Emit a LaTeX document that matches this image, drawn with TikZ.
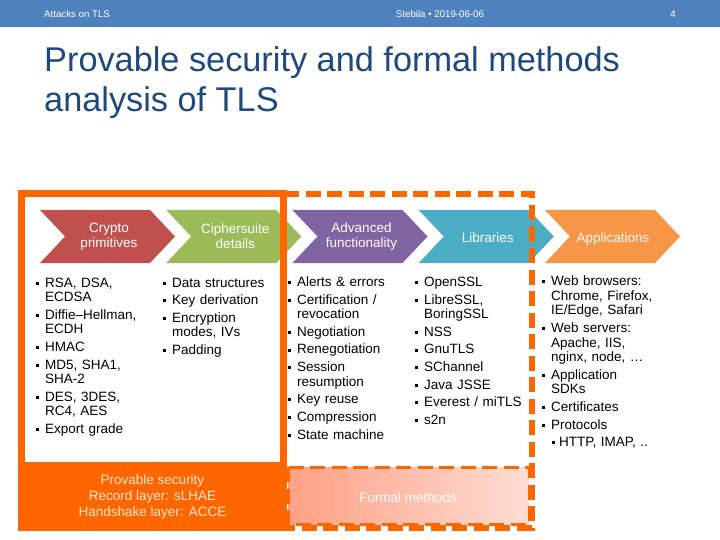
\documentclass[tikz,border=0pt]{standalone}
\usepackage{fontspec}
\setmainfont{Liberation Sans}
\definecolor{hdr}{HTML}{4F81BD}
\definecolor{ttl}{HTML}{1F497D}
\definecolor{cred}{HTML}{C0504D}
\definecolor{cgreen}{HTML}{9BBB59}
\definecolor{cpurple}{HTML}{8064A2}
\definecolor{cblue}{HTML}{4BACC6}
\definecolor{corange}{HTML}{F79646}
\definecolor{frm}{HTML}{FF6600}
\definecolor{fmL}{HTML}{FFA084}
\definecolor{fmR}{HTML}{FFDDD3}
\definecolor{pstxt}{HTML}{FFE9CF}
\newcommand\nl{\hfil\break}
\newcommand\bitem[1]{\par\hangindent=9pt\hangafter=1\noindent\makebox[9pt][l]{\rule[2.4pt]{3pt}{3pt}}#1}
\newcommand\subbitem[1]{\par\hangindent=17pt\hangafter=1\noindent\hspace{10pt}\makebox[7pt][l]{\rule[2.4pt]{3pt}{3pt}}#1}
\newcommand\chevron[2]{\fill[#2] (#1,210) -- ++(110,0) -- ++(25,26.5) -- ++(-25,26.5) -- ++(-110,0) -- ++(25,-26.5) -- cycle;}
\begin{document}
\begin{tikzpicture}[x=1pt,y=-1pt,
  hdrtxt/.style={text=white, font=\fontsize{9.7}{11}\selectfont, inner sep=0pt},
  chevtxt/.style={text=white, align=center, font=\fontsize{13.5}{15}\selectfont, inner sep=0pt},
  list/.style={anchor=base west, inner sep=0pt, text width=#1,
    font=\fontsize{13.5}{14.6}\selectfont\raggedright\setlength\parskip{3pt}},
  list/.default=125pt]
\useasboundingbox (0,0) rectangle (720,540);
% header
\fill[hdr] (0,0) rectangle (720,27.5);
\node[hdrtxt, anchor=west] (h1) at (44,14) {Attacks on TLS};
\node[hdrtxt] (h2) at (440,14) {Stebila • 2019-06-06};
\node[hdrtxt] (h3) at (673,14) {4};
% title
\node[anchor=base west, inner sep=0pt, text=ttl, font=\fontsize{34.3}{40}\selectfont] (title) at (44,72) {Provable security and formal methods};
\node[anchor=base west, inner sep=0pt, text=ttl, font=\fontsize{34.3}{40}\selectfont] (title2) at (44,112) {analysis of TLS};
% chevrons
\chevron{40}{cred}
\chevron{166.25}{cgreen}
\chevron{292.5}{cpurple}
\chevron{418.75}{cblue}
\chevron{545}{corange}
\node[chevtxt] (c1) at (109,236.5) {Crypto\\primitives};
\node[chevtxt] (c2) at (235.25,236.5) {Ciphersuite\\details};
\node[chevtxt] (c3) at (361.5,236.5) {Advanced\\functionality};
\node[chevtxt, anchor=base] (c4) at (487.75,242) {Libraries};
\node[chevtxt, anchor=base] (c5) at (613,242) {Applications};
% lists
\node[list] (l1) at (36,269.5) {\bitem{RSA, DSA,\nl ECDSA}\bitem{Diffie–Hellman,\nl ECDH}\bitem{HMAC}\bitem{MD5, SHA1,\nl SHA-2}\bitem{DES, 3DES,\nl RC4, AES}\bitem{Export grade}};
\node[list] (l2) at (163,269.5) {\bitem{Data structures}\bitem{Key derivation}\bitem{Encryption\nl modes, IVs}\bitem{Padding}};
\node[list] (l3) at (288,269) {\bitem{Alerts \& errors}\bitem{Certification /\nl revocation}\bitem{Negotiation}\bitem{Renegotiation}\bitem{Session\nl resumption}\bitem{Key reuse}\bitem{Compression}\bitem{State machine}};
\node[list] (l4) at (415,269) {\bitem{OpenSSL}\bitem{LibreSSL,\nl BoringSSL}\bitem{NSS}\bitem{GnuTLS}\bitem{SChannel}\bitem{Java JSSE}\bitem{Everest / miTLS}\bitem{s2n}};
\node[list=160pt] (l5) at (542,268) {\bitem{Web browsers:\nl Chrome, Firefox,\nl IE/Edge, Safari}\bitem{Web servers:\nl Apache, IIS,\nl nginx, node, …}\bitem{Application\nl SDKs}\bitem{Certificates}\bitem{Protocols}\subbitem{HTTP, IMAP, ..}};
% frames
\fill[frm] (22,462) rectangle (283,527);
\draw[frm, line width=7pt] (21.5,194) rectangle (283,527);
\draw[frm, line width=3pt, dash pattern=on 15pt off 6.5pt, left color=fmL, right color=fmR] (288,467) rectangle (529,524);
\draw[frm, line width=6pt, dash pattern=on 15pt off 6.5pt] (284,194.5) -- (531.5,194.5) -- (531.5,527.5) -- (284,527.5);
\draw[frm, line width=6pt] (284,194.5) -- (284,527.5);
\node[text=pstxt, align=center, inner sep=0pt, font=\fontsize{13.5}{16}\selectfont] (ps) at (152.5,497) {Provable security\\Record layer: sLHAE\\Handshake layer: ACCE};
\node[text=white, inner sep=0pt, font=\fontsize{13.5}{16}\selectfont, anchor=base] (fm) at (408,502) {Formal methods};
\end{tikzpicture}
\end{document}
